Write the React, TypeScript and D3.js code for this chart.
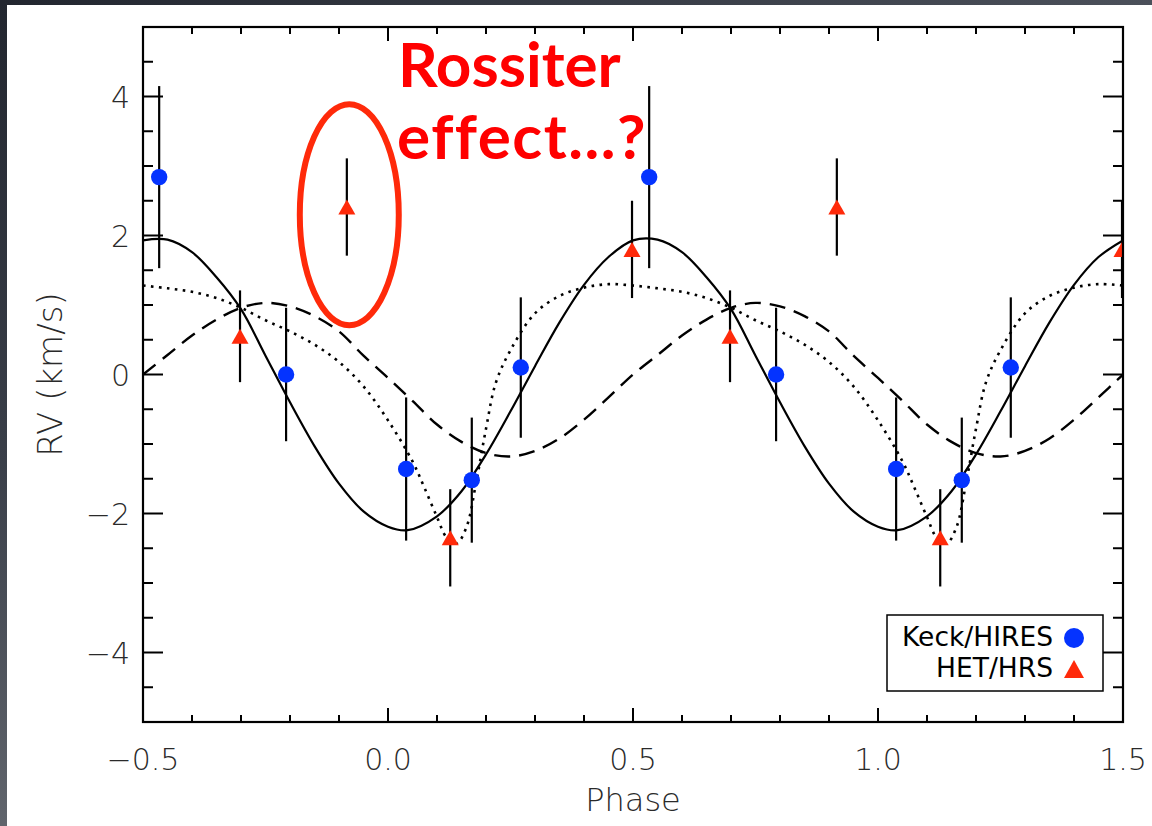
import React from "react";
import * as d3 from "d3";

// ---- Data ----
// Keck/HIRES radial velocities (phase, km/s, error)
const keckPhase = [-0.467, -0.208, 0.037, 0.171, 0.271];
const keckRV = [2.84, 0.0, -1.36, -1.52, 0.1];
const keckErr = [1.31, 0.96, 1.03, 0.9, 1.01];

// HET/HRS radial velocities
const hetPhase = [-0.302, -0.084, 0.127, 0.498];
const hetRV = [0.55, 2.41, -2.35, 1.8];
const hetErr = [0.66, 0.7, 0.7, 0.7];

// Model curves over one period (phase -0.5 .. 0.5), repeated each cycle
const solidPhase = [-0.5, -0.45, -0.4, -0.35, -0.3, -0.25, -0.2, -0.15, -0.1, -0.05, 0.0, 0.04, 0.1, 0.15, 0.2, 0.25, 0.3, 0.35, 0.4, 0.45, 0.5];
const solidRV = [1.93, 1.94, 1.76, 1.4, 0.94, 0.27, -0.4, -1.03, -1.57, -1.97, -2.19, -2.24, -2.04, -1.68, -1.15, -0.53, 0.12, 0.75, 1.29, 1.69, 1.93];

const dottedPhase = [-0.5, -0.45, -0.4, -0.35, -0.3, -0.25, -0.2, -0.15, -0.1, -0.05, 0.0, 0.05, 0.075, 0.1, 0.12, 0.14, 0.16, 0.18, 0.2, 0.22, 0.25, 0.3, 0.35, 0.4, 0.45, 0.5];
const dottedRV = [1.28, 1.24, 1.19, 1.1, 0.96, 0.78, 0.62, 0.43, 0.18, -0.17, -0.66, -1.25, -1.64, -2.05, -2.35, -2.43, -2.2, -1.55, -0.78, -0.12, 0.35, 0.88, 1.13, 1.25, 1.3, 1.28];

const dashedPhase = [-0.5, -0.45, -0.4, -0.35, -0.3, -0.25, -0.2, -0.15, -0.1, -0.05, 0.0, 0.05, 0.1, 0.15, 0.2, 0.25, 0.3, 0.35, 0.4, 0.45, 0.5];
const dashedRV = [0.0, 0.28, 0.56, 0.79, 0.96, 1.03, 0.98, 0.84, 0.62, 0.27, -0.05, -0.38, -0.72, -0.97, -1.13, -1.18, -1.1, -0.92, -0.65, -0.33, 0.0];

const cycles = [0, 1];
const xMajorTicks = [-0.5, 0.0, 0.5, 1.0, 1.5];
const xTickLabels = ["\u22120.5", "0.0", "0.5", "1.0", "1.5"];
const yMajorTicks = [-4, -2, 0, 2, 4];
const yTickLabels = ["\u22124", "\u22122", "0", "2", "4"];

const xTitle = "Phase";
const yTitle = "RV (km/s)";
const legendLabels = ["Keck/HIRES", "HET/HRS"];
const annotationLines = ["Rossiter", "effect...?"];
// Annotation ellipse around the suspicious HET point (data units)
const ellipseCenter = { phase: -0.079, rv: 2.3 };
const ellipseRadius = { phase: 0.101, rv: 1.59 };

const W = 1152;
const H = 826;
const PL = 143, PR = 1123, PT = 27, PB = 722;

const BLUE = "#0433ff";
const RED = "#ff2a0a";
const TXT = "#2a2a2a";
const FONT = "'DejaVu Sans', 'Liberation Sans', sans-serif";

export default function App() {
  const x = d3.scaleLinear().domain([-0.5, 1.5]).range([PL, PR]);
  const y = d3.scaleLinear().domain([-5, 5]).range([PB, PT]);

  const line = d3
    .line<[number, number]>()
    .x((d) => x(d[0]))
    .y((d) => y(d[1]))
    .curve(d3.curveCatmullRom.alpha(0.5));

  const repeated = (ph: number[], rv: number[]) => {
    const pts: [number, number][] = [];
    cycles.forEach((c, ci) => {
      ph.forEach((p, i) => {
        if (ci > 0 && i === 0) return;
        pts.push([p + c, rv[i]]);
      });
    });
    return pts;
  };

  const keck = cycles.flatMap((c) => keckPhase.map((p, i) => ({ p: p + c, v: keckRV[i], e: keckErr[i] })));
  const het = cycles.flatMap((c) => hetPhase.map((p, i) => ({ p: p + c, v: hetRV[i], e: hetErr[i] })));

  const xMinor = d3.range(-0.5, 1.5001, 0.1).map((v) => Math.round(v * 10) / 10);
  const yMinor = d3.range(-5, 5.0001, 0.5);

  const tri = (cx: number, cy: number, w: number, h: number) =>
    `M${cx - w / 2},${cy + h / 2}L${cx},${cy - h / 2}L${cx + w / 2},${cy + h / 2}Z`;

  return (
    <svg
      width={W}
      height={H}
      style={{ position: "fixed", left: 0, top: 0, display: "block" }}
      xmlns="http://www.w3.org/2000/svg"
    >
      <defs>
        <linearGradient id="bg" x1="0" y1="0" x2="0.35" y2="1">
          <stop offset="0" stopColor="#22262f" />
          <stop offset="0.5" stopColor="#3a3f49" />
          <stop offset="1" stopColor="#6b6f76" />
        </linearGradient>
        <linearGradient id="bgTop" x1="0" y1="0" x2="1" y2="0">
          <stop offset="0" stopColor="#22262f" />
          <stop offset="1" stopColor="#4b505a" />
        </linearGradient>
        <clipPath id="plotClip">
          <rect x={PL} y={PT} width={PR - PL} height={PB - PT} />
        </clipPath>
      </defs>
      <rect x={0} y={0} width={W} height={H} fill="url(#bg)" />
      <rect x={0} y={0} width={W} height={6} fill="url(#bgTop)" />
      <rect x={7} y={5} width={W - 7} height={H - 5} fill="#ffffff" />

      {/* model curves */}
      <g clipPath="url(#plotClip)" fill="none" stroke="#000">
        <path d={line(repeated(dashedPhase, dashedRV)) || ""} strokeWidth={2.4} strokeDasharray="16 9" />
        <path d={line(repeated(dottedPhase, dottedRV)) || ""} strokeWidth={2.6} strokeDasharray="2.6 5.4" />
        <path d={line(repeated(solidPhase, solidRV)) || ""} strokeWidth={2.2} />
      </g>

      {/* error bars and markers */}
      <g clipPath="url(#plotClip)">
        {keck.map((d, i) => (
          <line key={"ke" + i} x1={x(d.p)} x2={x(d.p)} y1={y(d.v + d.e)} y2={y(d.v - d.e)} stroke="#000" strokeWidth={2.2} />
        ))}
        {het.map((d, i) => (
          <line key={"he" + i} x1={x(d.p)} x2={x(d.p)} y1={y(d.v + d.e)} y2={y(d.v - d.e)} stroke="#000" strokeWidth={2.2} />
        ))}
        {keck.map((d, i) => (
          <circle key={"k" + i} cx={x(d.p)} cy={y(d.v)} r={8.2} fill={BLUE} />
        ))}
        {het.map((d, i) => (
          <path key={"h" + i} d={tri(x(d.p), y(d.v), 17, 15)} fill={RED} />
        ))}
      </g>

      {/* frame */}
      <rect x={PL} y={PT} width={PR - PL} height={PB - PT} fill="none" stroke="#000" strokeWidth={2.2} />
      {/* x ticks bottom & top */}
      {xMinor.map((t, i) => {
        const major = xMajorTicks.some((m) => Math.abs(m - t) < 1e-6);
        const len = major ? 14 : 7;
        return (
          <g key={"xt" + i} stroke="#000" strokeWidth={2}>
            <line x1={x(t)} x2={x(t)} y1={PB} y2={PB - len} />
            <line x1={x(t)} x2={x(t)} y1={PT} y2={PT + len} />
          </g>
        );
      })}
      {yMinor.map((t, i) => {
        const major = yMajorTicks.some((m) => Math.abs(m - t) < 1e-6);
        const len = major ? 20 : 10;
        return (
          <g key={"yt" + i} stroke="#000" strokeWidth={2}>
            <line x1={PL} x2={PL + len} y1={y(t)} y2={y(t)} />
            <line x1={PR} x2={PR - len} y1={y(t)} y2={y(t)} />
          </g>
        );
      })}

      {/* tick labels */}
      <g fontFamily={FONT} fontWeight={200} fill={TXT} fontSize={30}>
        {xMajorTicks.map((t, i) => (
          <text key={"xl" + i} x={x(t)} y={770} textAnchor="middle">
            {xTickLabels[i]}
          </text>
        ))}
        {yMajorTicks.map((t, i) => (
          <text key={"yl" + i} x={130} y={y(t) + 11} textAnchor="end">
            {yTickLabels[i]}
          </text>
        ))}
      </g>

      {/* axis titles */}
      <text x={(PL + PR) / 2} y={811} textAnchor="middle" fontFamily={FONT} fontWeight={200} fontSize={32} fill={TXT}>
        {xTitle}
      </text>
      <text
        transform={`translate(62, ${(PT + PB) / 2}) rotate(-90)`}
        textAnchor="middle"
        fontFamily={FONT}
        fontWeight={200}
        fontSize={34}
        fill={TXT}
      >
        {yTitle}
      </text>

      {/* legend */}
      <rect x={887} y={615} width={216} height={76} fill="#fff" stroke="#000" strokeWidth={1.5} />
      <g fontFamily={FONT} fontWeight={400} fontSize={26.5} fill="#000">
        <text x={1053} y={646} textAnchor="end">{legendLabels[0]}</text>
        <text x={1053} y={677} textAnchor="end">{legendLabels[1]}</text>
      </g>
      <circle cx={1074} cy={638} r={10} fill={BLUE} />
      <path d={tri(1074, 669, 20, 18)} fill={RED} />

      {/* annotation */}
      <ellipse
        cx={x(ellipseCenter.phase)}
        cy={y(ellipseCenter.rv)}
        rx={x(ellipseCenter.phase + ellipseRadius.phase) - x(ellipseCenter.phase)}
        ry={y(ellipseCenter.rv) - y(ellipseCenter.rv + ellipseRadius.rv)}
        fill="none"
        stroke="#ff2a0a"
        strokeWidth={6}
      />
      <g fontFamily="Lato, 'Open Sans', sans-serif" fontWeight={700} fontSize={62} fill="#ff0000">
        <text x={398} y={87}>{annotationLines[0]}</text>
        <text x={397} y={159} letterSpacing={1.5}>{annotationLines[1]}</text>
      </g>
    </svg>
  );
}
